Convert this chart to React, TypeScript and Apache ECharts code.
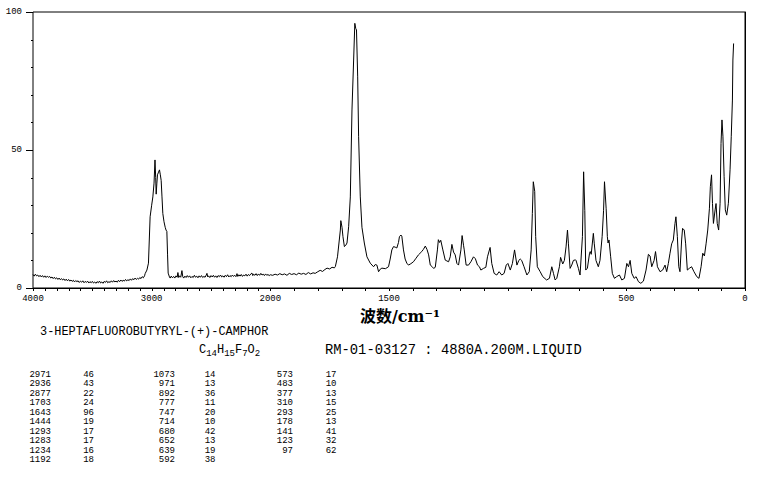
import React, { useEffect, useRef } from "react";
import * as echarts from "echarts";

// Raman spectrum (wavenumber cm-1, relative intensity)
const wavenumbers = [
  4000, 3990, 3980, 3970, 3960, 3950, 3940, 3930, 3920, 3910, 3900, 3890, 3880, 3870, 3860, 3850,
  3840, 3830, 3820, 3810, 3800, 3790, 3780, 3770, 3760, 3750, 3740, 3730, 3720, 3710, 3700, 3690,
  3680, 3670, 3660, 3650, 3640, 3630, 3620, 3610, 3600, 3590, 3580, 3570, 3560, 3550, 3540, 3530,
  3520, 3510, 3500, 3490, 3480, 3470, 3460, 3450, 3440, 3430, 3420, 3410, 3400, 3390, 3380, 3370,
  3360, 3350, 3340, 3330, 3320, 3310, 3300, 3290, 3280, 3270, 3260, 3250, 3240, 3230, 3220, 3210,
  3200, 3190, 3180, 3170, 3160, 3150, 3140, 3130, 3120, 3110, 3100, 3090, 3080, 3070, 3060, 3055,
  3040, 3027, 3013, 3000, 2990, 2980, 2972, 2966, 2962, 2956, 2951, 2942, 2934, 2927, 2920, 2913,
  2906, 2896, 2886, 2879, 2872, 2866, 2861, 2850, 2844, 2835, 2825, 2815, 2805, 2795, 2785, 2779,
  2772, 2765, 2755, 2745, 2738, 2730, 2720, 2710, 2700, 2690, 2680, 2670, 2660, 2650, 2640, 2630,
  2620, 2610, 2600, 2590, 2580, 2570, 2560, 2550, 2540, 2534, 2527, 2520, 2510, 2500, 2490, 2480,
  2470, 2460, 2450, 2440, 2430, 2420, 2410, 2400, 2390, 2380, 2370, 2360, 2350, 2340, 2330, 2320,
  2310, 2300, 2290, 2281, 2274, 2265, 2255, 2245, 2235, 2225, 2215, 2205, 2195, 2185, 2175, 2165,
  2155, 2148, 2140, 2130, 2120, 2110, 2100, 2090, 2080, 2070, 2060, 2050, 2040, 2030, 2020, 2010,
  2000, 1990, 1980, 1970, 1960, 1950, 1940, 1930, 1920, 1910, 1900, 1890, 1880, 1870, 1860, 1850,
  1840, 1830, 1820, 1811, 1800, 1790, 1780, 1770, 1761, 1750, 1740, 1730, 1726, 1717, 1705, 1703,
  1698, 1694, 1688, 1682, 1677, 1670, 1663, 1656, 1649, 1644, 1640, 1637, 1632, 1628, 1621, 1614,
  1604, 1593, 1579, 1565, 1558, 1551, 1544, 1537, 1530, 1515, 1502, 1495, 1488, 1481, 1474, 1467,
  1460, 1456, 1450, 1446, 1439, 1432, 1425, 1418, 1408, 1397, 1386, 1376, 1362, 1355, 1347, 1340,
  1333, 1326, 1319, 1312, 1305, 1296, 1292, 1287, 1282, 1273, 1263, 1256, 1249, 1242, 1235, 1228,
  1221, 1214, 1207, 1197, 1192, 1186, 1183, 1175, 1165, 1155, 1144, 1136, 1127, 1119, 1113, 1102,
  1092, 1085, 1074, 1067, 1057, 1046, 1036, 1025, 1015, 1006, 999, 989, 980, 971, 961, 953,
  947, 941, 931, 919, 909, 901, 896, 892, 886, 882, 875, 863, 852, 836, 824, 814,
  807, 800, 793, 782, 777, 768, 761, 754, 748, 744, 737, 730, 723, 714, 712, 702,
  695, 685, 680, 675, 671, 664, 655, 652, 648, 639, 635, 628, 618, 611, 602, 596,
  592, 585, 580, 577, 573, 566, 559, 550, 541, 529, 519, 508, 498, 491, 484, 477,
  467, 459, 449, 439, 428, 417, 407, 400, 393, 383, 377, 369, 358, 347, 337, 330,
  323, 316, 309, 302, 295, 291, 285, 279, 274, 267, 263, 256, 250, 243, 235, 225,
  215, 203, 194, 185, 178, 171, 164, 157, 150, 146, 141, 137, 133, 126, 122, 117,
  111, 105, 101, 97, 93, 88, 83, 77, 70, 63, 58, 53, 51, 48,
];
const intensities = [
  4.9, 4.3, 5.0, 4.4, 4.7, 4.1, 4.6, 4.0, 4.5, 3.9, 4.4, 3.8, 4.3, 3.9, 4.2, 3.6,
  4.0, 3.4, 3.9, 3.3, 3.7, 3.1, 3.6, 3.0, 3.4, 2.9, 3.3, 2.7, 3.2, 2.6, 3.1, 2.5,
  2.9, 2.4, 2.8, 2.2, 2.7, 2.3, 2.6, 2.0, 2.5, 2.1, 2.6, 1.9, 2.4, 2.0, 2.5, 1.8,
  2.3, 1.9, 2.4, 1.8, 2.2, 1.7, 2.3, 1.9, 2.5, 1.8, 2.2, 1.7, 2.4, 2.0, 2.6, 1.9,
  2.3, 2.0, 2.6, 2.1, 2.7, 2.2, 2.5, 2.1, 2.8, 2.3, 2.9, 2.4, 2.8, 2.5, 3.1, 2.6,
  3.0, 2.7, 3.3, 2.8, 3.4, 3.0, 3.6, 3.1, 3.5, 3.2, 3.8, 3.4, 4.1, 3.7, 4.4, 5.2,
  6.5, 9.0, 25.8, 30.0, 33.0, 38.0, 46.4, 40.0, 34.0, 38.0, 41.0, 42.0, 42.8, 41.0, 39.0, 33.0,
  27.0, 24.0, 22.0, 21.0, 20.5, 12.0, 5.4, 4.0, 3.6, 4.3, 3.7, 4.2, 3.6, 4.4, 3.9, 5.6,
  3.8, 4.4, 3.9, 6.3, 4.1, 3.6, 4.3, 3.8, 4.5, 3.9, 4.4, 3.7, 4.2, 3.8, 4.6, 3.9,
  4.3, 3.7, 4.4, 3.9, 4.5, 3.8, 4.2, 3.9, 4.7, 5.3, 4.0, 4.4, 3.8, 4.5, 4.0, 4.6,
  3.9, 4.4, 3.8, 4.5, 4.1, 4.7, 4.0, 4.4, 3.9, 4.6, 4.1, 4.8, 4.0, 4.5, 4.1, 4.7,
  4.2, 4.6, 4.1, 5.2, 4.2, 4.8, 4.3, 4.9, 4.2, 4.7, 4.4, 5.0, 4.3, 4.9, 4.5, 5.1,
  5.4, 4.5, 5.0, 4.6, 5.2, 4.5, 5.1, 4.6, 5.3, 4.7, 5.0, 4.5, 5.1, 4.6, 4.9, 4.5,
  4.8, 4.6, 5.0, 4.7, 5.2, 4.8, 5.1, 4.6, 5.3, 4.9, 5.2, 4.8, 5.4, 5.0, 5.3, 4.9,
  5.6, 5.1, 5.5, 5.3, 5.9, 6.4, 6.0, 6.7, 7.2, 6.9, 7.5, 7.3, 7.8, 11.3, 21.0, 24.4,
  22.0, 18.6, 15.0, 15.5, 16.3, 22.2, 33.0, 64.5, 82.6, 95.9, 94.0, 93.5, 76.5, 54.8, 33.0, 22.0,
  16.3, 11.3, 9.0, 7.7, 8.5, 8.3, 5.9, 6.8, 7.2, 7.0, 7.7, 10.5, 13.8, 15.0, 14.8, 14.5,
  16.5, 18.6, 19.2, 18.8, 13.8, 10.5, 9.0, 8.3, 8.8, 9.5, 10.8, 12.0, 13.2, 14.0, 15.2, 14.0,
  12.0, 8.3, 7.8, 7.1, 7.5, 13.8, 17.5, 16.5, 17.3, 13.8, 10.1, 9.8, 9.5, 11.3, 15.8, 13.0,
  12.0, 8.9, 8.3, 13.8, 19.0, 15.5, 13.8, 8.3, 8.3, 9.5, 11.3, 10.6, 8.3, 7.7, 6.5, 7.1,
  7.5, 11.3, 14.7, 8.9, 5.3, 4.7, 5.9, 4.7, 5.3, 8.3, 8.9, 6.5, 8.9, 13.8, 8.3, 10.0,
  10.5, 10.0, 7.7, 4.7, 5.9, 13.8, 27.0, 38.5, 35.0, 18.6, 7.7, 5.9, 4.1, 2.9, 3.5, 7.7,
  5.3, 2.9, 3.5, 7.7, 11.1, 8.7, 10.0, 14.9, 21.0, 16.0, 7.1, 8.3, 10.0, 10.2, 10.0, 7.1,
  4.7, 18.6, 42.1, 28.0, 6.5, 7.2, 12.6, 13.2, 12.2, 19.8, 16.0, 10.0, 7.7, 10.0, 18.6, 28.0,
  38.5, 28.7, 18.6, 16.3, 17.4, 11.3, 5.3, 3.5, 4.1, 4.7, 2.9, 3.5, 8.9, 7.7, 10.0, 5.3,
  3.5, 4.1, 2.3, 1.7, 2.5, 6.5, 12.2, 11.6, 7.7, 10.0, 13.2, 7.7, 5.9, 6.5, 8.3, 5.9,
  8.9, 12.6, 16.0, 17.4, 23.4, 25.8, 18.6, 7.7, 5.9, 17.4, 21.6, 21.0, 16.0, 6.5, 7.1, 7.7,
  5.9, 4.1, 3.5, 7.7, 12.6, 11.6, 16.0, 21.0, 28.7, 36.7, 41.0, 30.6, 23.4, 28.3, 30.6, 23.4,
  21.0, 30.7, 52.4, 60.9, 55.0, 40.3, 28.3, 26.4, 30.7, 42.8, 54.8, 68.1, 82.6, 88.6,
];

// axis labels and ticks (cm-1)
const xLabelValues = [4000, 3000, 2000, 1500, 500, 0];
const xTickValues = [
  0, 100, 200, 300, 400, 500, 600, 700, 800, 900, 1000, 1100, 1200, 1300, 1400, 1500, 1600, 1700,
  1800, 1900, 2000, 2100, 2200, 2300, 2400, 2500, 2600, 2700, 2800, 2900, 3000, 3100, 3200, 3300,
  3400, 3500, 3600, 3700, 3800, 3900, 4000,
];
const yTickValues = [0, 10, 20, 30, 40, 50, 60, 70, 80, 90, 100];
const yMajorTicks = [0, 50, 100];

// texts
const compoundName = "3-HEPTAFLUOROBUTYRYL-(+)-CAMPHOR";
const formulaParts = [
  ["C", "14"],
  ["H", "15"],
  ["F", "7"],
  ["O", "2"],
];
const sampleInfo = "RM-01-03127 : 4880A.200M.LIQUID";
const axisTitle = "波数/cm⁻¹";

// peak table
const peakWavenumbers = [
  [2971, 2936, 2877, 1703, 1643, 1444, 1293, 1283, 1234, 1192],
  [1073, 971, 892, 777, 747, 714, 680, 652, 639, 592],
  [573, 483, 377, 310, 293, 178, 141, 123, 97],
];
const peakIntensities = [
  [46, 43, 22, 24, 96, 19, 17, 17, 16, 18],
  [14, 13, 36, 11, 20, 10, 42, 13, 19, 38],
  [17, 10, 13, 15, 25, 13, 41, 32, 62],
];

// piecewise axis: above 2000 cm-1 the scale is compressed by half
const toAxis = (wn: number) => (wn <= 2000 ? wn : 2000 + (wn - 2000) / 2);
const fromAxis = (p: number) => (p <= 2000 ? p : 2000 + (p - 2000) * 2);

const MONO = '"Liberation Mono", "DejaVu Sans Mono", monospace';

export default function App() {
  const ref = useRef<HTMLDivElement>(null);
  useEffect(() => {
    if (!ref.current) return;
    const chart = echarts.init(ref.current, null, { renderer: "svg" });

    const tableCols = [
      { wnRight: 51, inRight: 94 },
      { wnRight: 175, inRight: 215.5 },
      { wnRight: 293, inRight: 336.5 },
    ];
    const cell = (text: string, x: number, y: number) => ({
      type: "text",
      x,
      y,
      style: {
        text,
        fontSize: 9,
        fontFamily: MONO,
        fill: "#000",
        textAlign: "right",
        textVerticalAlign: "middle",
        align: "right",
        verticalAlign: "middle",
      },
    });
    const tableTexts: any[] = [];
    peakWavenumbers.forEach((col, ci) => {
      col.forEach((wn, ri) => {
        const y = 375 + ri * 9.44;
        tableTexts.push(cell(String(wn), tableCols[ci].wnRight, y));
        tableTexts.push(cell(String(peakIntensities[ci][ri]), tableCols[ci].inRight, y));
      });
    });

    const textEl = (text: string, x: number, y: number, fontSize: number, extra: any = {}) => ({
      type: "text",
      x,
      y,
      style: {
        text,
        fontSize,
        fontFamily: MONO,
        fill: "#000",
        textAlign: "left",
        textVerticalAlign: "middle",
        align: "left",
        verticalAlign: "middle",
        ...extra,
      },
    });

    const formulaRich = formulaParts.map(([el, n]) => `${el}{s|${n}}`).join("");

    chart.setOption({
      animation: false,
      backgroundColor: "#fff",
      grid: {
        left: 33,
        right: 16,
        top: 12,
        bottom: 189,
        show: true,
        borderColor: "#000",
        borderWidth: 1,
        backgroundColor: "transparent",
      },
      xAxis: {
        type: "value",
        min: 0,
        max: 3000,
        inverse: true,
        axisLine: { show: true, lineStyle: { color: "#000", width: 1 } },
        axisTick: { show: false },
        axisLabel: {
          show: true,
          customValues: xLabelValues.map(toAxis),
          formatter: (v: number) => String(Math.round(fromAxis(v))),
          fontSize: 9,
          fontFamily: MONO,
          color: "#000",
          margin: 6,
        },
        splitLine: { show: false },
      },
      yAxis: {
        type: "value",
        min: 0,
        max: 100,
        interval: 50,
        axisLine: { show: true, lineStyle: { color: "#000", width: 1 } },
        axisTick: { show: false },
        axisLabel: { fontSize: 9, fontFamily: MONO, color: "#000", margin: 11 },
        splitLine: { show: false },
      },
      series: [
        {
          type: "line",
          data: wavenumbers.map((w, i) => [toAxis(w), intensities[i]]),
          showSymbol: false,
          symbol: "none",
          lineStyle: { color: "#000", width: 1 },
          silent: true,
          z: 3,
        },
        {
          type: "custom",
          silent: true,
          clip: false,
          z: 4,
          data: xTickValues.map((v) => [toAxis(v), 0]),
          renderItem: (params: any, api: any) => {
            const p = api.coord([api.value(0), 0]);
            const x = Math.round(p[0]) + 0.5;
            return {
              type: "line",
              shape: { x1: x, y1: p[1], x2: x, y2: p[1] + 3 },
              style: { stroke: "#000", lineWidth: 1 },
            };
          },
        },
        {
          type: "custom",
          silent: true,
          clip: false,
          z: 4,
          data: yTickValues.map((v) => [0, v]),
          renderItem: (params: any, api: any) => {
            const v = api.value(1);
            const p = api.coord([3000, v]);
            const y = Math.round(p[1]) + 0.5;
            const len = yMajorTicks.indexOf(v) >= 0 ? 7 : 2;
            return {
              type: "line",
              shape: { x1: p[0] - len, y1: y, x2: p[0], y2: y },
              style: { stroke: "#000", lineWidth: 1 },
            };
          },
        },
      ],
      graphic: [
        {
          type: "text",
          x: 360,
          y: 316,
          style: {
            text: axisTitle,
            fontSize: 16,
            fontWeight: "bold",
            fontFamily: '"DejaVu Serif", "Noto Sans CJK SC", serif',
            fill: "#000",
            textAlign: "left",
            textVerticalAlign: "middle",
            align: "left",
            verticalAlign: "middle",
          },
        },
        textEl(compoundName, 40, 332, 11.9),
        textEl(formulaRich, 199, 350, 12, {
          rich: { s: { fontSize: 9, fontFamily: MONO, fill: "#000", padding: [8, 0, 0, 0] } },
        }),
        textEl(sampleInfo, 325, 350, 13.8),
        ...tableTexts,
      ],
    });
    return () => chart.dispose();
  }, []);
  return (
    <div
      ref={ref}
      style={{ position: "fixed", left: 0, top: 0, width: 761, height: 477, background: "#fff" }}
    />
  );
}
